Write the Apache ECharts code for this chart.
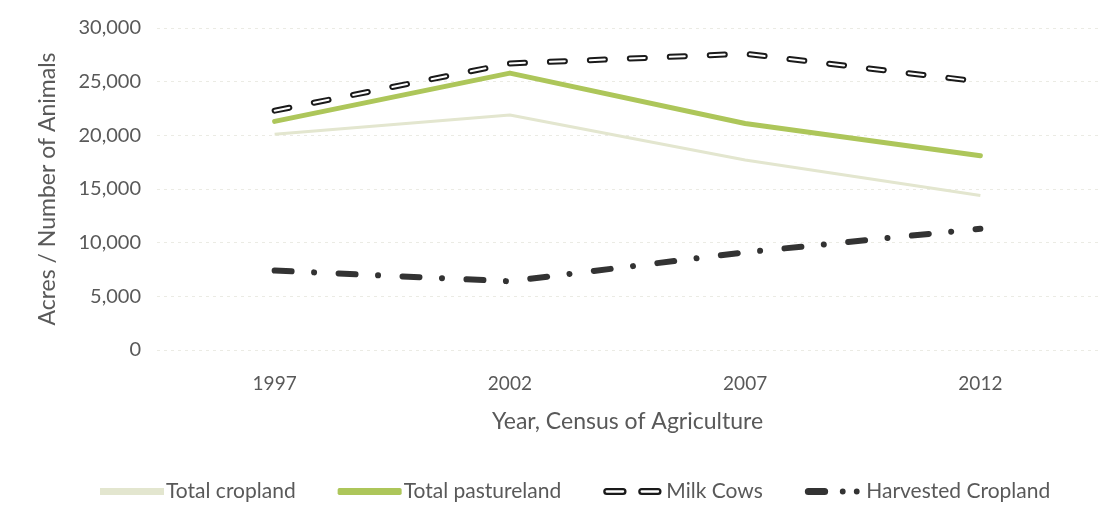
<!DOCTYPE html>
<html>
<head>
<meta charset="utf-8">
<script src="https://cdn.jsdelivr.net/npm/echarts@6/dist/echarts.min.js"></script>
<style>
  html, body { margin: 0; padding: 0; background: #ffffff; }
  #chart { width: 1098px; height: 523px; }
</style>
</head>
<body>
<div id="chart"></div>
<script>
// Census of Agriculture years
const years = ['1997', '2002', '2007', '2012'];

// Acres / head counts per census year
const totalCropland = [20100, 21900, 17700, 14400];
const totalPastureland = [21300, 25800, 21100, 18100];
const milkCows = [22300, 26700, 27600, 25000];
const harvestedCropland = [7400, 6400, 9100, 11300];

// y-axis ticks
const yTicks = [0, 5000, 10000, 15000, 20000, 25000, 30000];

const textColor = '#595959';
const fontFamily = 'Lato, "Liberation Sans", sans-serif';

// legend glyphs: outlined double dash, dash + two dots
const milkIcon = 'path://M3,0 H17 A3,3 0 0 1 17,6 H3 A3,3 0 0 1 3,0 Z M3,2 A1,1 0 0 0 3,4 H17 A1,1 0 0 0 17,2 Z ' +
  'M33,0 H47 A3,3 0 0 1 47,6 H33 A3,3 0 0 1 33,0 Z M33,2 A1,1 0 0 0 33,4 H47 A1,1 0 0 0 47,2 Z';
const harvIcon = 'path://M3,0 H17 A3,3 0 0 1 17,6 H3 A3,3 0 0 1 3,0 Z ' +
  'M30,3 A2.5,2.5 0 1 0 35,3 A2.5,2.5 0 1 0 30,3 Z M42,3 A2.5,2.5 0 1 0 47,3 A2.5,2.5 0 1 0 42,3 Z';

const chart = echarts.init(document.getElementById('chart'), null, { renderer: 'canvas' });

chart.setOption({
  backgroundColor: '#ffffff',
  animation: false,
  textStyle: { fontFamily: fontFamily },
  grid: { left: 157, top: 28, width: 943, bottom: 173, containLabel: false },
  legend: {
    top: 476,
    left: 95,
    itemGap: 42,
    itemWidth: 64,
    itemHeight: 7,
    textStyle: { color: textColor, fontSize: 21, fontFamily: fontFamily, padding: [0, 0, 0, -3] },
    data: [
      { name: 'Total cropland', icon: 'rect', itemStyle: { color: '#e3e6cf' } },
      { name: 'Total pastureland', icon: 'roundRect', itemStyle: { color: '#adc65a' } },
      { name: 'Milk Cows', icon: milkIcon, itemStyle: { color: '#1a1a1a' } },
      { name: 'Harvested Cropland', icon: harvIcon, itemStyle: { color: '#333333' } }
    ]
  },
  xAxis: {
    type: 'category',
    data: years,
    boundaryGap: true,
    axisLine: { show: false },
    axisTick: { show: false },
    axisLabel: { color: textColor, fontSize: 19, margin: 24, fontFamily: fontFamily },
    name: 'Year, Census of Agriculture',
    nameLocation: 'middle',
    nameGap: 60,
    nameTextStyle: { color: textColor, fontSize: 23, fontFamily: fontFamily }
  },
  yAxis: {
    type: 'value',
    min: yTicks[0],
    max: yTicks[yTicks.length - 1],
    interval: yTicks[1] - yTicks[0],
    axisLine: { show: false },
    axisTick: { show: false },
    axisLabel: {
      color: textColor,
      fontSize: 20,
      margin: 16,
      fontFamily: fontFamily,
      formatter: v => v.toLocaleString('en-US')
    },
    splitLine: { lineStyle: { color: '#ebebe4', width: 1, type: [3, 4] } },
    name: 'Acres / Number of Animals',
    nameLocation: 'middle',
    nameGap: 98,
    nameTextStyle: { color: textColor, fontSize: 23, fontFamily: fontFamily }
  },
  series: [
    {
      name: 'Total cropland',
      type: 'line',
      data: totalCropland,
      symbol: 'none',
      z: 1,
      lineStyle: { color: '#e3e6cf', width: 3 },
      itemStyle: { color: '#e3e6cf' }
    },
    {
      name: 'Total pastureland',
      type: 'line',
      data: totalPastureland,
      symbol: 'none',
      z: 2,
      lineStyle: { color: '#adc65a', width: 5, cap: 'round', join: 'round' },
      itemStyle: { color: '#adc65a' }
    },
    {
      name: 'Milk Cows',
      type: 'line',
      data: milkCows,
      symbol: 'none',
      z: 3,
      lineStyle: { color: '#1a1a1a', width: 6, type: [15, 25], cap: 'round' },
      itemStyle: { color: '#1a1a1a' }
    },
    {
      // white core of the outlined dashes
      name: 'Milk Cows core',
      type: 'line',
      data: milkCows,
      symbol: 'none',
      z: 4,
      silent: true,
      lineStyle: { color: '#ffffff', width: 2, type: [15, 25], cap: 'round' },
      itemStyle: { color: '#ffffff' }
    },
    {
      name: 'Harvested Cropland',
      type: 'line',
      data: harvestedCropland,
      symbol: 'none',
      z: 5,
      lineStyle: { color: '#333333', width: 6, type: [17, 22.5, 0.01, 24.5], cap: 'round' },
      itemStyle: { color: '#333333' }
    }
  ]
});
</script>
</body>
</html>
